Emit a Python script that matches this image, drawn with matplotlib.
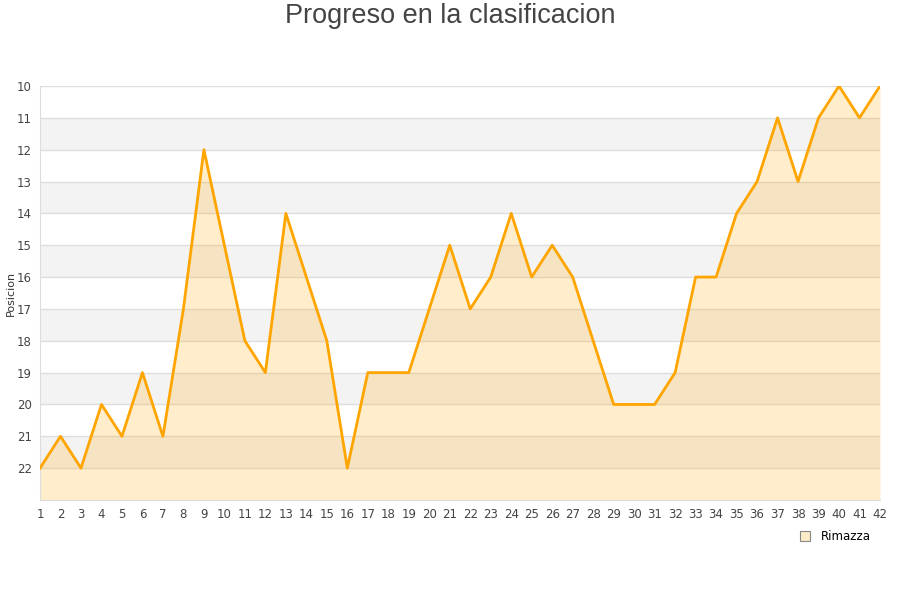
import numpy as np
import matplotlib
matplotlib.use('Agg')
from matplotlib import pyplot as plt
from matplotlib.lines import Line2D

jornadas = list(range(1, 43))
posiciones = [22, 21, 22, 20, 21, 19, 21, 17, 12, 15, 18, 19, 14, 16, 18, 22,
              19, 19, 19, 17, 15, 17, 16, 14, 16, 15, 16, 18, 20, 20, 20, 19,
              16, 16, 14, 13, 11, 13, 11, 10, 11, 10]
equipo = 'Rimazza'

fig = plt.figure(figsize=(9, 6), dpi=100)
ax = fig.add_axes([40 / 900, 100 / 600, 840 / 900, 414 / 600])

# bandas alternas
for lo in range(11, 23, 2):
    ax.axhspan(lo, lo + 1, color='#f3f3f3', zorder=0, lw=0)
for y in range(10, 23):
    ax.axhline(y, color='#dedede', lw=1, zorder=1)

ax.fill_between(jornadas, posiciones, 23, color='#ffa500', alpha=0.2, lw=0, zorder=2)
ax.plot(jornadas, posiciones, color='#ffa500', lw=2, zorder=3)

ax.set_xlim(1, 42)
ax.set_ylim(23, 10)
ax.set_xticks(jornadas)
ax.set_yticks(range(10, 23))
ax.tick_params(length=0, labelsize=8.5, colors='#444444', pad=6)
for s in ['top', 'right']:
    ax.spines[s].set_visible(False)
for s in ['left', 'bottom']:
    ax.spines[s].set_color('#dddddd')
fig.text(11 / 900, 1 - 293 / 600, 'Posicion', rotation=90, fontsize=8,
         color='#333333', ha='center', va='center')

fig.text(0.5, 1 - 16 / 600, 'Progreso en la clasificacion', fontsize=19.5,
         color='#444444', ha='center', va='center', family='Liberation Sans')

handle = Line2D([], [], marker='s', ls='', markersize=7, markerfacecolor='#fdebc8',
                markeredgecolor='#888888', markeredgewidth=0.8)
fig.legend([handle], [equipo], loc='center', bbox_to_anchor=(832 / 900, 1 - 537 / 600),
           frameon=False, fontsize=8.5, handletextpad=0.3)

fig.savefig('out.png', dpi=100)
